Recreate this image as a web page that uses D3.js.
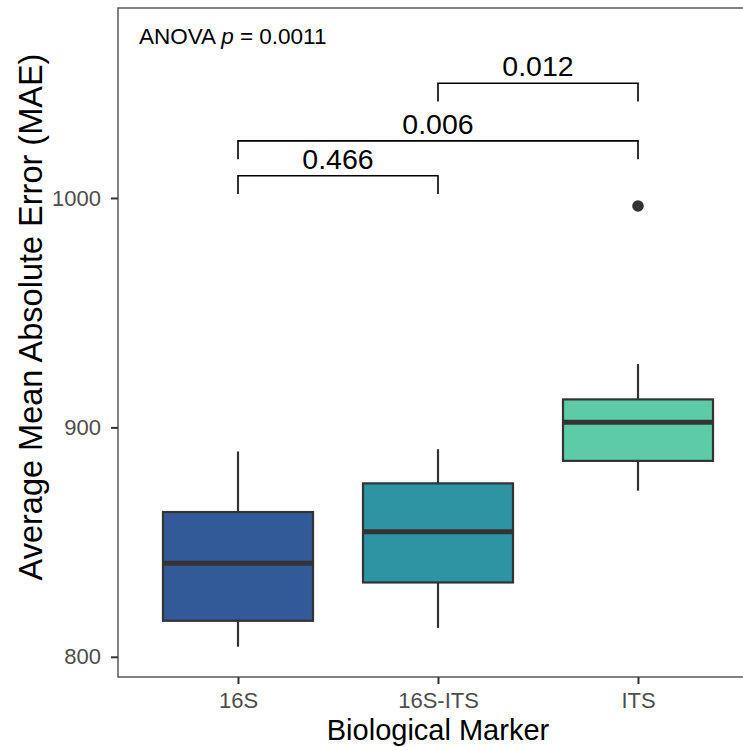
<!DOCTYPE html>
<html>
<head>
<meta charset="utf-8">
<script src="https://cdn.jsdelivr.net/npm/d3@7"></script>
<style>
  body { margin: 0; background: #fff; }
  text { font-family: "Liberation Sans", Arial, Helvetica, sans-serif; }
</style>
</head>
<body>
<script>
// box summaries
var markers = ["16S", "16S-ITS", "ITS"];
var lowerWhisker = [804.4, 812.6, 872.4];
var q1 = [815.7, 832.4, 885.4];
var median = [840.8, 854.5, 902.2];
var q3 = [863.1, 875.6, 912.2];
var upperWhisker = [889.5, 890.5, 927.6];
var outliers = [[], [], [996.5]];

// pairwise comparisons
var pairA = ["16S", "16S", "16S-ITS"];
var pairB = ["16S-ITS", "ITS", "ITS"];
var pLabels = ["0.466", "0.006", "0.012"];
var bracketY = [1009.7, 1024.9, 1050];

var yTicks = [800, 900, 1000];

var width = 743,
    height = 747,
    marginLeft = 118,
    marginTop = 8,
    panelBottom = 677,
    tipLength = 8;

var palette = ["#335a98", "#2e93a3", "#5ecba8"];

var svg = d3.select("body")
    .append("svg")
    .attr("width", width)
    .attr("height", height);

// discrete x: ggplot style 0.6 expansion each side
var xScale = d3.scalePoint()
    .domain(markers)
    .range([marginLeft, marginLeft + 640])
    .padding(0.6);
var step = xScale.step();
var boxWidth = step * 0.75;

var yScale = d3.scaleLinear()
    .domain([791.2, 1082.8])
    .range([panelBottom, marginTop]);

var color = d3.scaleOrdinal().domain(markers).range(palette);

var chart = svg.append("g");

// whiskers
chart.selectAll("line.whisk")
    .data(markers)
    .enter()
    .append("line")
        .attr("class", "whisk")
        .attr("x1", function(d) { return xScale(d); })
        .attr("x2", function(d) { return xScale(d); })
        .attr("y1", function(d, i) { return yScale(lowerWhisker[i]); })
        .attr("y2", function(d, i) { return yScale(upperWhisker[i]); })
        .attr("stroke", "#333333")
        .attr("stroke-width", 2.2);

// boxes
chart.selectAll("rect.box")
    .data(markers)
    .enter()
    .append("rect")
        .attr("class", "box")
        .attr("x", function(d) { return xScale(d) - boxWidth / 2; })
        .attr("y", function(d, i) { return yScale(q3[i]); })
        .attr("width", boxWidth)
        .attr("height", function(d, i) { return yScale(q1[i]) - yScale(q3[i]); })
        .attr("fill", function(d) { return color(d); })
        .attr("stroke", "#333333")
        .attr("stroke-width", 2.2);

// medians
chart.selectAll("line.med")
    .data(markers)
    .enter()
    .append("line")
        .attr("class", "med")
        .attr("x1", function(d) { return xScale(d) - boxWidth / 2; })
        .attr("x2", function(d) { return xScale(d) + boxWidth / 2; })
        .attr("y1", function(d, i) { return yScale(median[i]); })
        .attr("y2", function(d, i) { return yScale(median[i]); })
        .attr("stroke", "#333333")
        .attr("stroke-width", 5);

// outliers
var outPts = [];
markers.forEach(function(m, i) {
    outliers[i].forEach(function(v) { outPts.push([m, v]); });
});
chart.selectAll("circle.out")
    .data(outPts)
    .enter()
    .append("circle")
        .attr("class", "out")
        .attr("cx", function(d) { return xScale(d[0]); })
        .attr("cy", function(d) { return yScale(d[1]); })
        .attr("r", 5.8)
        .attr("fill", "#333333");

// significance brackets
var brackets = chart.selectAll("g.bracket")
    .data(pLabels)
    .enter()
    .append("g")
        .attr("class", "bracket");

brackets.append("path")
    .attr("d", function(d, i) {
        var xa = xScale(pairA[i]), xb = xScale(pairB[i]);
        var yTop = yScale(bracketY[i]), yTip = yScale(bracketY[i] - tipLength);
        return "M" + xa + "," + yTip + "V" + yTop + "H" + xb + "V" + yTip;
    })
    .attr("fill", "none")
    .attr("stroke", "#000")
    .attr("stroke-width", 1.6);

brackets.append("text")
    .attr("x", function(d, i) { return (xScale(pairA[i]) + xScale(pairB[i])) / 2; })
    .attr("y", function(d, i) { return yScale(bracketY[i]) - 7; })
    .attr("text-anchor", "middle")
    .style("font-size", "28.5px")
    .text(function(d) { return d; });

// ANOVA label
var anova = svg.append("text")
    .attr("x", 139)
    .attr("y", 44)
    .style("font-size", "22.5px")
    .attr("fill", "#000");
anova.append("tspan").text("ANOVA ");
anova.append("tspan").style("font-style", "italic").text("p");
anova.append("tspan").text(" = 0.0011");

// panel border
svg.append("rect")
    .attr("x", marginLeft)
    .attr("y", marginTop)
    .attr("width", 700)
    .attr("height", panelBottom - marginTop)
    .attr("fill", "none")
    .attr("stroke", "#4d4d4d")
    .attr("stroke-width", 1.4);

// axes
var yAxis = d3.axisLeft(yScale).tickValues(yTicks).tickFormat(d3.format("d")).tickSize(7).tickPadding(10);
var gy = svg.append("g")
    .attr("class", "y axis")
    .attr("transform", "translate(" + marginLeft + ",0)")
    .call(yAxis);

var xAxis = d3.axisBottom(xScale).tickSize(7).tickPadding(8);
var gx = svg.append("g")
    .attr("class", "x axis")
    .attr("transform", "translate(0," + panelBottom + ")")
    .call(xAxis);

[gx, gy].forEach(function(g) {
    g.select(".domain").remove();
    g.selectAll(".tick line").attr("stroke", "#333333").attr("stroke-width", 2);
    g.selectAll(".tick text")
        .attr("fill", "#4d4d4d")
        .style("font-size", "22px")
        .style("font-family", "'Liberation Sans', Arial, sans-serif");
});

// axis titles
svg.append("text")
    .attr("x", xScale("16S-ITS"))
    .attr("y", 740)
    .attr("text-anchor", "middle")
    .style("font-size", "29px")
    .text("Biological Marker");

svg.append("text")
    .attr("transform", "translate(42,317) rotate(-90)")
    .attr("text-anchor", "middle")
    .style("font-size", "32.5px")
    .text("Average Mean Absolute Error (MAE)");
</script>
</body>
</html>
